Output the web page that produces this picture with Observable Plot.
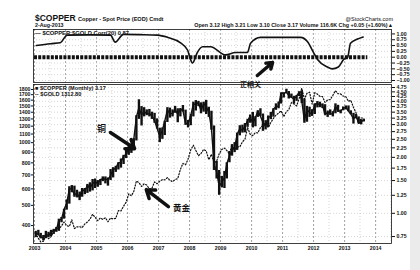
<!DOCTYPE html>
<html><head><meta charset="utf-8">
<script src="https://cdn.jsdelivr.net/npm/d3@7"></script>
<script src="https://cdn.jsdelivr.net/npm/@observablehq/plot@0.6"></script>
<style>
body{margin:0;background:#fff;}
#wrap{position:relative;width:420px;height:270px;overflow:hidden;font-family:"Liberation Sans",Arial,sans-serif;font-weight:bold;color:#111;background:#fff;}
#wrap svg{position:absolute;left:0;top:0;}
.t{position:absolute;white-space:nowrap;line-height:1;}
.strip{position:absolute;left:410px;top:0;width:10px;height:270px;background:#ebebeb;}
</style></head><body><div id="wrap"><div class="strip"></div></div>
<script>
// ---------- tick labels ----------
const yearLabels = [2003,2004,2005,2006,2007,2008,2009,2010,2011,2012,2013,2014];
const copperTicks = [0.75,1.00,1.25,1.50,1.75,2.00,2.25,2.50,2.75,3.00,3.25,3.50,3.75,4.00,4.25,4.50,4.75];
const goldTicks = [400,500,600,700,800,900,1000,1100,1200,1300,1400,1500,1600,1700,1800];
const corrTicks = [-1,-0.75,-0.5,-0.25,0,0.25,0.5,0.75,1];

// ---------- copper monthly (Jan 2003 - Aug 2013), USD/lb ----------
const copperClose = [
 0.78,0.77,0.74,0.74,0.77,0.76,0.79,0.81,0.81,0.92,0.93,1.05,
 1.13,1.35,1.36,1.26,1.28,1.22,1.35,1.31,1.42,1.36,1.45,1.48,
 1.44,1.52,1.53,1.53,1.51,1.60,1.72,1.75,1.87,1.88,2.03,2.07,
 2.25,2.28,2.49,3.30,3.70,3.38,3.54,3.42,3.45,3.34,3.15,2.87,
 2.59,2.80,3.13,3.60,3.43,3.45,3.62,3.41,3.63,3.57,3.05,3.03,
 3.35,3.86,3.86,3.94,3.56,3.90,3.76,3.48,2.88,1.84,1.67,1.40,
 1.47,1.55,1.84,2.04,2.17,2.27,2.65,2.86,2.79,2.94,3.15,3.33,
 3.03,3.27,3.55,3.33,3.08,2.93,3.28,3.32,3.64,3.74,3.78,4.44,
 4.42,4.47,4.31,4.21,4.11,4.28,4.47,4.03,3.14,3.63,3.48,3.43,
 3.86,3.89,3.84,3.83,3.39,3.49,3.42,3.43,3.76,3.55,3.56,3.65,
 3.73,3.55,3.42,3.22,3.33,3.06,3.11,3.17];
const copperHigh = [
 0.80,0.81,0.78,0.76,0.80,0.79,0.81,0.82,0.84,0.93,0.95,1.05,
 1.18,1.39,1.41,1.40,1.33,1.30,1.36,1.36,1.43,1.46,1.52,1.53,
 1.50,1.52,1.57,1.57,1.55,1.72,1.76,1.79,1.87,1.96,2.05,2.19,
 2.29,2.35,2.52,3.35,4.08,3.75,3.70,3.60,3.62,3.50,3.45,3.22,
 2.87,2.88,3.13,3.70,3.68,3.60,3.76,3.65,3.66,3.80,3.59,3.16,
 3.40,3.96,4.04,4.00,3.93,3.96,4.05,3.72,3.54,2.95,1.90,1.70,
 1.58,1.68,1.87,2.15,2.34,2.40,2.70,2.96,2.98,3.04,3.20,3.38,
 3.49,3.31,3.56,3.65,3.42,3.15,3.34,3.49,3.65,3.88,3.97,4.44,
 4.45,4.65,4.52,4.38,4.26,4.30,4.51,4.56,4.12,3.76,3.72,3.61,
 3.88,3.99,3.96,3.88,3.84,3.55,3.60,3.52,3.88,3.81,3.59,3.73,
 3.78,3.78,3.56,3.45,3.40,3.30,3.19,3.21];
const copperLow = [
 0.74,0.76,0.73,0.71,0.73,0.74,0.75,0.77,0.79,0.80,0.89,0.93,
 1.04,1.12,1.29,1.22,1.21,1.17,1.22,1.26,1.28,1.30,1.32,1.36,
 1.38,1.41,1.48,1.44,1.40,1.50,1.55,1.66,1.71,1.75,1.83,1.97,
 2.05,2.10,2.24,2.45,3.20,2.95,3.30,3.35,3.30,3.20,3.05,2.84,
 2.40,2.50,2.62,3.08,3.25,3.30,3.45,3.07,3.30,3.50,2.97,2.88,
 2.96,3.30,3.55,3.75,3.43,3.50,3.40,3.28,2.80,1.70,1.53,1.25,
 1.37,1.36,1.53,1.87,2.03,2.12,2.18,2.61,2.70,2.71,2.90,3.05,
 2.88,2.92,3.28,3.32,2.76,2.81,2.90,3.19,3.29,3.58,3.65,3.87,
 4.17,4.40,4.12,4.16,3.87,4.00,4.25,3.89,3.05,3.09,3.28,3.32,
 3.40,3.69,3.70,3.66,3.38,3.28,3.37,3.30,3.43,3.49,3.43,3.56,
 3.60,3.52,3.39,3.02,3.22,3.02,2.99,3.10];

// ---------- gold monthly close (Jan 2003 - Aug 2013), USD/oz ----------
const goldClose = [
 368,347,334,336,361,346,354,375,388,386,398,416,
 400,396,426,387,394,395,391,407,416,429,453,438,
 422,435,428,436,417,435,430,433,472,470,495,518,
 568,556,583,654,643,616,634,626,599,604,648,635,
 652,665,663,679,659,650,665,672,743,795,783,834,
 923,972,917,866,887,928,913,828,880,800,814,884,
 928,942,917,883,979,927,954,955,1008,1039,1182,1097,
 1081,1118,1113,1180,1213,1244,1181,1248,1307,1357,1386,1421,
 1333,1410,1439,1556,1536,1500,1628,1826,1620,1725,1746,1531,
 1738,1710,1669,1664,1560,1604,1610,1687,1776,1719,1713,1675,
 1662,1578,1597,1476,1393,1234,1313,1313];

// ---------- $COPPER:$GOLD Corr(20) ----------
const corrDates = ["2003-01-22","2003-07-08","2003-11-01","2004-01-01","2004-01-22","2004-10-18",
 "2005-06-14","2005-08-08","2005-11-14","2006-05-27","2006-12-20","2007-04-20","2007-09-13",
 "2007-12-10","2008-01-12","2008-02-06","2008-04-01","2008-06-03","2008-09-05","2009-02-28",
 "2009-06-25","2009-11-13","2009-12-20","2010-04-16","2011-07-31","2011-10-20","2012-01-01",
 "2012-02-17","2012-06-13","2012-08-07","2012-10-19","2012-12-20","2013-02-06","2013-03-11",
 "2013-06-03","2013-08-07"];
const corrValues = [0.50,0.58,0.62,0.90,0.95,0.96,
 0.95,0.65,0.98,0.97,0.95,0.85,0.63,
 0.30,-0.10,-0.25,0.20,0.45,0.45,0.10,
 0.20,0.20,0.60,0.85,0.85,0.67,0.20,
 -0.10,-0.42,-0.50,-0.42,-0.10,0.00,0.60,
 0.78,0.87];
const zeroBand = ["2003-01-01","2013-10-01"];

// ---------- annotations (data coordinates) ----------
const copperNote = {text:"铜", date:"2005-03-01", value:2.82, from:["2005-06-13",2.72], to:["2006-03-25",2.23]};
const goldNote = {text:"黄金", date:"2007-09-27", value:483, from:["2007-04-27",493], to:["2006-08-10",595]};
const corrNote = {text:"正相关", date:"2009-12-20", value:-1.17, from:["2010-03-10",-0.785], to:["2010-09-05",-0.226]};

// ---------- build rows ----------
const months = d3.utcMonth.range(new Date(Date.UTC(2003,0,1)), new Date(Date.UTC(2013,7,2)));
const copperRows = months.map((m,i)=>({date:d3.utcDay.offset(m,14), close:copperClose[i], high:copperHigh[i], low:copperLow[i]}));
const goldRows = months.map((m,i)=>({date:d3.utcDay.offset(m,14), close:goldClose[i]}));
const corrRows = corrDates.map((d,i)=>({date:new Date(d), value:corrValues[i]}));
const yearDates = yearLabels.map(y=>new Date(Date.UTC(y,0,1)));
const halfDates = yearLabels.map(y=>new Date(Date.UTC(y,6,1)));
const xDomain = [new Date("2002-12-20"), new Date("2014-07-07")];
const font = {background:"transparent", fontFamily:"'Liberation Sans',Arial,sans-serif", fontWeight:"bold", fontSize:"6px", color:"#111"};
const fontSmall = {...font, fontSize:"5.2px"};
const D = s => new Date(s);

const wrap = document.getElementById("wrap");

// ---------- top panel: correlation ----------
const corrPlot = Plot.plot({
  width:420, height:270, marginLeft:33, marginRight:29, marginTop:29, marginBottom:188,
  style:fontSmall,
  x:{type:"utc", domain:xDomain, axis:null},
  y:{domain:[-1.086,1.19], axis:"right", ticks:corrTicks, tickFormat:d3.format(".2f"), tickSize:3, tickPadding:2, label:null},
  marks:[
    Plot.ruleX(halfDates, {stroke:"#bbb", strokeWidth:0.6, strokeDasharray:"1,2"}),
    Plot.ruleX(yearDates, {stroke:"#888", strokeWidth:0.7, strokeDasharray:"2,2"}),
    Plot.ruleY(corrTicks, {stroke:"#bbb", strokeWidth:0.6, strokeDasharray:"1,2"}),
    Plot.ruleY([0], {x1:D(zeroBand[0]), x2:D(zeroBand[1]), stroke:"#111", strokeWidth:4, strokeDasharray:"3,1.2"}),
    Plot.line(corrRows, {x:"date", y:"value", curve:"monotone-x", stroke:"#111", strokeWidth:1.6}),
    Plot.arrow([corrNote], {x1:d=>D(d.from[0]), y1:d=>d.from[1], x2:d=>D(d.to[0]), y2:d=>d.to[1], stroke:"#111", strokeWidth:3.5, headLength:9, headAngle:70}),
    Plot.text([corrNote], {x:d=>D(d.date), y:"value", text:"text", fontFamily:"'Noto Sans CJK SC'", fontWeight:"bold", fontSize:7, fill:"#111"}),
    Plot.frame({stroke:"#111", strokeWidth:0.8})
  ]
});
wrap.appendChild(corrPlot);

// ---------- bottom panel: copper (right axis) ----------
const cuPlot = Plot.plot({
  width:420, height:270, marginLeft:33, marginRight:29, marginTop:84, marginBottom:27,
  style:fontSmall,
  x:{type:"utc", domain:xDomain, ticks:yearDates, tickFormat:"%Y", tickSize:0, tickPadding:3, label:null},
  y:{type:"log", domain:[0.688,4.93], axis:"right", ticks:copperTicks, tickFormat:d3.format(".2f"), tickSize:3, tickPadding:2, label:null},
  marks:[
    Plot.ruleX(halfDates, {stroke:"#bbb", strokeWidth:0.6, strokeDasharray:"1,2"}),
    Plot.ruleX(yearDates, {stroke:"#777", strokeWidth:0.7, strokeDasharray:"2,2"}),
    Plot.ruleY(copperTicks, {stroke:"#bbb", strokeWidth:0.6, strokeDasharray:"1,2"}),
    Plot.ruleX(copperRows, {x:"date", y1:"low", y2:"high", stroke:"#111", strokeWidth:2.4}),
    Plot.line(copperRows, {x:"date", y:"close", stroke:"#111", strokeWidth:1.4}),
    Plot.arrow([copperNote], {x1:d=>D(d.from[0]), y1:d=>d.from[1], x2:d=>D(d.to[0]), y2:d=>d.to[1], stroke:"#111", strokeWidth:3.5, headLength:9, headAngle:70}),
    Plot.text([copperNote], {x:d=>D(d.date), y:"value", text:"text", fontFamily:"'Noto Sans CJK SC'", fontWeight:"bold", fontSize:9, fill:"#111"}),
    Plot.frame({stroke:"#111", strokeWidth:0.8})
  ]
});
wrap.appendChild(cuPlot);

// ---------- bottom panel: gold (left axis) ----------
const auPlot = Plot.plot({
  width:420, height:270, marginLeft:33, marginRight:29, marginTop:84, marginBottom:27,
  style:fontSmall,
  x:{type:"utc", domain:xDomain, axis:null},
  y:{type:"log", domain:[328,1902], axis:"left", ticks:goldTicks, tickFormat:d3.format("d"), tickSize:2, tickPadding:1, label:null},
  marks:[
    Plot.line(goldRows, {x:"date", y:"close", stroke:"#111", strokeWidth:1.2, strokeDasharray:"1.2,1.8"}),
    Plot.arrow([goldNote], {x1:d=>D(d.from[0]), y1:d=>d.from[1], x2:d=>D(d.to[0]), y2:d=>d.to[1], stroke:"#111", strokeWidth:3.5, headLength:9, headAngle:70}),
    Plot.text([goldNote], {x:d=>D(d.date), y:"value", text:"text", fontFamily:"'Noto Sans CJK SC'", fontWeight:"bold", fontSize:8.5, fill:"#111"})
  ]
});
wrap.appendChild(auPlot);

// ---------- header and legends ----------
function addText(html, css){const d=document.createElement("div");d.className="t";d.innerHTML=html;Object.assign(d.style,css);wrap.appendChild(d);}
addText("<span style='font-size:8.5px'>$COPPER</span> <span style='font-size:5.6px'>Copper - Spot Price (EOD) Cmdt</span>", {left:"35px", top:"14px", fontSize:"8.5px"});
addText("2-Aug-2013", {left:"35px", top:"23px", fontSize:"5.3px"});
addText("@StockCharts.com", {right:"27px", top:"17px", fontSize:"5.5px", fontWeight:"normal"});
addText("Open 3.12 High 3.21 Low 3.10 Close 3.17 Volume 116.6K Chg +0.05 (+1.60%)&#9650;", {right:"27px", top:"23px", fontSize:"5.4px"});
addText("&mdash; $COPPER:$GOLD Corr(20) 0.87", {left:"35px", top:"30.5px", fontSize:"5.8px"});
addText("&#9632; $COPPER (Monthly) 3.17", {left:"35px", top:"86px", fontSize:"5.6px"});
addText("-- $GOLD 1312.80", {left:"35px", top:"92px", fontSize:"5.6px"});
</script></body></html>
